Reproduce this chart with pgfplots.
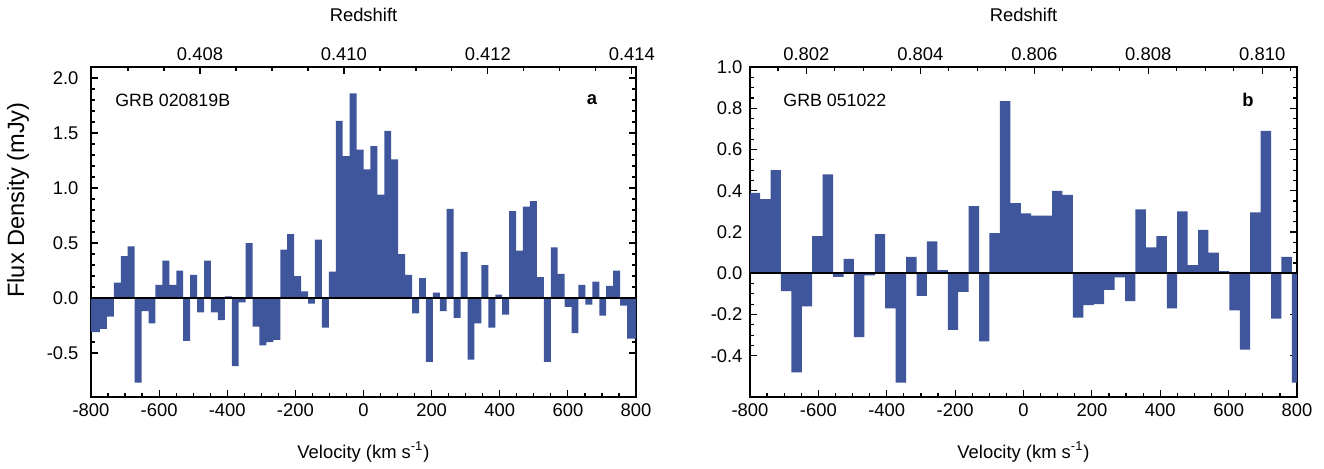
\documentclass[border=0pt]{standalone}
\usepackage{fontspec}
\setmainfont{Liberation Sans}
\usepackage{pgfplots}
\pgfplotsset{compat=1.18}
\definecolor{barblue}{RGB}{63,85,156}

\pgfplotstableread{
x y
-800 -0.31
-773.6 -0.28
-753.2 -0.17
-732.9 0.14
-712.5 0.38
-692.2 0.47
-671.8 -0.77
-651.5 -0.12
-631.1 -0.23
-610.7 0.12
-590.4 0.34
-570.0 0.12
-549.7 0.25
-529.3 -0.39
-509.0 0.21
-488.6 -0.13
-468.2 0.34
-447.9 -0.13
-427.5 -0.20
-407.2 0.015
-386.8 -0.62
-366.4 -0.04
-346.1 0.50
-325.7 -0.26
-305.4 -0.43
-285.0 -0.40
-264.7 -0.38
-244.3 0.44
-223.9 0.58
-203.6 0.20
-183.2 0.06
-162.9 -0.05
-142.5 0.53
-122.1 -0.27
-101.8 0.24
-81.4 1.61
-61.1 1.29
-40.7 1.86
-20.4 1.35
0 1.17
20.4 1.38
40.7 0.94
61.1 1.52
81.4 1.26
101.8 0.40
122.1 0.21
142.5 -0.14
162.9 0.18
183.2 -0.58
203.6 0.05
223.9 -0.12
244.3 0.81
264.7 -0.18
285.0 0.42
305.4 -0.56
325.7 -0.23
346.1 0.30
366.4 -0.27
386.8 0.03
407.2 -0.15
427.5 0.79
447.9 0.43
468.2 0.83
488.6 0.88
509.0 0.19
529.3 -0.58
549.7 0.46
570.0 0.22
590.4 -0.08
610.7 -0.32
631.1 0.12
651.5 -0.06
671.8 0.15
692.2 -0.16
712.5 0.11
732.9 0.25
753.2 -0.07
773.6 -0.37
800 0
}\grbA

\pgfplotstableread{
x y
-801 0.39
-770.5 0.36
-740 0.50
-709.5 -0.087
-679 -0.48
-648.5 -0.16
-618 0.18
-587.5 0.48
-557 -0.018
-526.5 0.07
-496 -0.31
-465.5 -0.01
-435 0.19
-404.5 -0.17
-374 -0.53
-343.5 0.08
-313 -0.11
-282.5 0.155
-252 0.015
-221.5 -0.275
-191 -0.09
-160.5 0.325
-130 -0.33
-99.5 0.195
-69 0.835
-38.5 0.34
-8 0.29
22.5 0.28
53 0.28
83.5 0.40
114 0.38
144.5 -0.215
175 -0.155
205.5 -0.15
236 -0.08
266.5 -0.02
297 -0.135
327.5 0.31
358 0.125
388.5 0.18
419 -0.17
449.5 0.30
480 0.04
510.5 0.21
541 0.10
571.5 0.01
602 -0.18
632.5 -0.37
663 0.295
693.5 0.69
724 -0.22
754.5 0.08
785 -0.53
815.5 0
}\grbB

\pgfplotsset{
  every axis/.append style={font=\fontsize{9.2}{11}\selectfont},
  mainaxis/.style={
    scale only axis, height=165pt, anchor=south west,
    axis line style={line width=0.9pt},
    tick style={black, line width=0.6pt},
    major tick length=3.5pt, minor tick length=2pt,
    tick align=inside,
    xmin=-800, xmax=800,
    xtick={-800,-600,-400,-200,0,200,400,600,800},
    xticklabels={-800,-600,-400,-200,0,200,400,600,800},
    minor x tick num=3,
    xtick pos=left, ytick pos=both, yticklabel pos=left,
  },
  topaxis/.style={
    scale only axis, height=165pt, anchor=south west,
    ymin=0, ymax=1,
    axis x line*=top, axis y line=none,
    axis line style={-, line width=0.9pt},
    tick style={black, line width=0.6pt},
    major tick length=3.5pt, minor tick length=2pt,
    tick align=inside,
  },
}

\begin{document}
\fontsize{9.2}{11}\selectfont
\begin{tikzpicture}
\useasboundingbox (0,0) rectangle (662pt,234pt);

% ---------- panel a ----------
\begin{axis}[mainaxis, width=272.5pt, at={(45.5pt,35.5pt)},
  ymin=-0.9, ymax=2.1,
  ytick={-0.5,0,0.5,1,1.5,2},
  yticklabels={-0.5,0.0,0.5,1.0,1.5,2.0},
  yticklabel style={xshift=-3pt},
  minor y tick num=4]
\addplot[const plot, fill=barblue, draw=none] table[x=x,y=y] {\grbA} \closedcycle;
\addplot[black, line width=1pt, forget plot] coordinates {(-800,0) (800,0)};
\end{axis}
\begin{axis}[topaxis, width=272.5pt, at={(45.5pt,35.5pt)},
  xmin=-3.514, xmax=4.058,
  xtick={-2,0,2,4}, xticklabels={0.408,0.410,0.412,0.414},
  minor xtick={-3,-2.5,-1.5,-1,-0.5,0.5,1,1.5,2.5,3,3.5}]
\end{axis}

% ---------- panel b ----------
\begin{axis}[mainaxis, width=273.5pt, at={(375pt,35.5pt)},
  ymin=-0.6, ymax=1.0,
  ytick={-0.4,-0.2,0,0.2,0.4,0.6,0.8,1.0},
  yticklabels={-0.4,-0.2,0.0,0.2,0.4,0.6,0.8,1.0},
  yticklabel style={xshift=-0.5pt},
  minor y tick num=3]
\addplot[const plot, fill=barblue, draw=none] table[x=x,y=y] {\grbB} \closedcycle;
\addplot[black, line width=1pt, forget plot] coordinates {(-800,0) (800,0)};
\end{axis}
\begin{axis}[topaxis, width=273.5pt, at={(375pt,35.5pt)},
  xmin=-4.99, xmax=4.61,
  xtick={-4,-2,0,2,4}, xticklabels={0.802,0.804,0.806,0.808,0.810},
  minor xtick={-4.5,-3.5,-3,-2.5,-1.5,-1,-0.5,0.5,1,1.5,2.5,3,3.5,4.5}]
\end{axis}

% ---------- texts ----------
\node at (181.75pt,226.5pt) {Redshift};
\node at (511.75pt,226.5pt) {Redshift};
\node at (181.75pt,8pt) {Velocity (km s\textsuperscript{-1})};
\node at (511.75pt,8pt) {Velocity (km s\textsuperscript{-1})};
\node[rotate=90, font=\fontsize{11.8}{13}\selectfont] at (9pt,134pt) {Flux Density (mJy)};
\node[anchor=west, inner sep=0pt, font=\fontsize{8.9}{11}\selectfont] at (57.5pt,184pt) {GRB 020819B};
\node at (296pt,184pt) {\textbf{a}};
\node[anchor=west, inner sep=0pt, font=\fontsize{8.9}{11}\selectfont] at (391.5pt,184pt) {GRB 051022};
\node at (624pt,184pt) {\textbf{b}};
\end{tikzpicture}
\end{document}
